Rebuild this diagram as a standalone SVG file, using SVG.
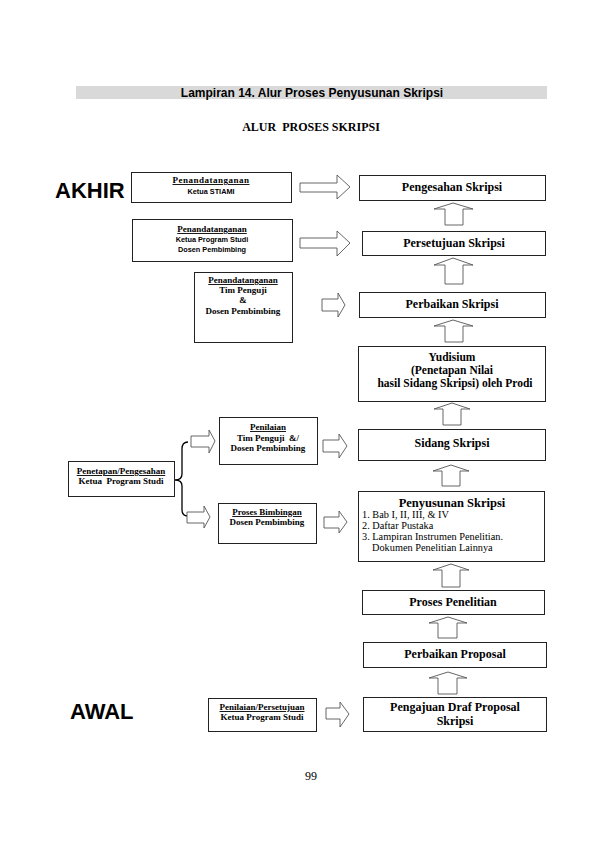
<svg xmlns="http://www.w3.org/2000/svg" width="595" height="842" viewBox="0 0 595 842">
<style>
.bx{fill:#fff;stroke:#222;stroke-width:1}
.ar{fill:#fff;stroke:#555;stroke-width:0.9;stroke-linejoin:miter}
.tb{font-family:"Liberation Serif","Times New Roman",serif;font-weight:bold;fill:#000;text-anchor:middle}
.tr{font-family:"Liberation Serif","Times New Roman",serif;fill:#000}
.ts{font-family:"Liberation Sans",Arial,sans-serif;font-weight:bold;fill:#000;text-anchor:middle}
.u{text-decoration:underline}
.m12{font-size:12px}
.s9{font-size:9px}
.ss{font-size:7.3px}
.big{font-family:"Liberation Sans",Arial,sans-serif;font-weight:bold;font-size:22px;fill:#000}
</style>
<rect width="595" height="842" fill="#fff"/>
<g id="header">
<rect x="76" y="86" width="471" height="13" fill="#d9d9d9"/>
<text x="312" y="96.5" class="ts" style="font-size:12px">Lampiran 14. Alur Proses Penyusunan Skripsi</text>
<text x="311" y="131" class="tb m12" xml:space="preserve">ALUR  PROSES SKRIPSI</text>
</g>
<text x="55" y="198" class="big">AKHIR</text>
<text x="70" y="719" class="big">AWAL</text>

<g id="n-pengesahan"><rect class="bx" x="359.5" y="175.5" width="186" height="25"/><text x="452" y="191" class="tb m12">Pengesahan Skripsi</text></g>
<g id="n-persetujuan"><rect class="bx" x="362.5" y="231.5" width="183" height="24"/><text x="454" y="247" class="tb m12">Persetujuan Skripsi</text></g>
<g id="n-perbaikan-skripsi"><rect class="bx" x="359.5" y="292.5" width="186" height="25"/><text x="452" y="308" class="tb m12">Perbaikan Skripsi</text></g>
<g id="n-yudisium"><rect class="bx" x="358.5" y="346.5" width="187" height="55"/>
<text x="452" y="361" class="tb" style="font-size:11.5px">Yudisium</text>
<text x="452" y="374" class="tb" style="font-size:11.5px">(Penetapan Nilai</text>
<text x="455" y="387" class="tb" style="font-size:11.5px">hasil Sidang Skripsi) oleh Prodi</text></g>
<g id="n-sidang"><rect class="bx" x="358.5" y="429.5" width="187" height="31"/><text x="452" y="447" class="tb m12">Sidang Skripsi</text></g>
<g id="n-penyusunan"><rect class="bx" x="358.5" y="491.5" width="186" height="70"/>
<text x="452" y="507" class="tb" style="font-size:12.5px">Penyusunan Skripsi</text>
<text x="362" y="518" class="tr" style="font-size:10.3px">1. Bab I, II, III, &amp; IV</text>
<text x="362" y="529" class="tr" style="font-size:10.3px">2. Daftar Pustaka</text>
<text x="362" y="540" class="tr" style="font-size:10.3px">3. Lampiran Instrumen Penelitian.</text>
<text x="372" y="551" class="tr" style="font-size:10.3px">Dokumen Penelitian Lainnya</text></g>
<g id="n-proses-penelitian"><rect class="bx" x="362.5" y="590.5" width="182" height="24"/><text x="453" y="606" class="tb m12">Proses Penelitian</text></g>
<g id="n-perbaikan-proposal"><rect class="bx" x="363.5" y="642.5" width="183" height="25"/><text x="455" y="658" class="tb m12">Perbaikan Proposal</text></g>
<g id="n-pengajuan"><rect class="bx" x="363.5" y="697.5" width="183" height="34"/>
<text x="455" y="711" class="tb m12">Pengajuan Draf Proposal</text>
<text x="455" y="725" class="tb m12">Skripsi</text></g>

<g id="n-ttd-stiami"><rect class="bx" x="131.5" y="172.5" width="160" height="30"/>
<text x="211" y="183" class="tb s9 u" style="letter-spacing:0.5px">Penandatanganan</text>
<text x="211" y="194" class="ts ss">Ketua STIAMI</text></g>
<g id="n-ttd-prodi"><rect class="bx" x="132.5" y="219.5" width="160" height="42"/>
<text x="212" y="232" class="tb s9 u">Penandatanganan</text>
<text x="212" y="242" class="ts ss">Ketua Program Studi</text>
<text x="212" y="252" class="ts ss">Dosen Pembimbing</text></g>
<g id="n-ttd-penguji"><rect class="bx" x="194.5" y="272.5" width="98" height="70"/>
<text x="243" y="283" class="tb s9 u">Penandatanganan</text>
<text x="243" y="293" class="tb s9">Tim Penguji</text>
<text x="243" y="303" class="tb s9">&amp;</text>
<text x="243" y="314" class="tb s9">Dosen Pembimbing</text></g>
<g id="n-penilaian"><rect class="bx" x="219.5" y="417.5" width="98" height="47"/>
<text x="268" y="430" class="tb s9 u">Penilaian</text>
<text x="268" y="441" class="tb s9" xml:space="preserve">Tim Penguji  &amp;/</text>
<text x="268" y="451" class="tb s9">Dosen Pembimbing</text></g>
<g id="n-bimbingan"><rect class="bx" x="218.5" y="503.5" width="98" height="40"/>
<text x="267" y="515" class="tb s9 u">Proses Bimbingan</text>
<text x="267" y="525" class="tb s9">Dosen Pembimbing</text></g>
<g id="n-penetapan"><rect class="bx" x="68.5" y="461.5" width="106" height="35"/>
<text x="121" y="474" class="tb s9 u">Penetapan/Pengesahan</text>
<text x="121" y="484" class="tb s9" xml:space="preserve">Ketua  Program Studi</text></g>
<g id="n-penilaian-persetujuan"><rect class="bx" x="208.5" y="698.5" width="108" height="33"/>
<text x="262" y="710" class="tb s9 u">Penilaian/Persetujuan</text>
<text x="262" y="720" class="tb s9">Ketua Program Studi</text></g>

<g id="connectors">
<path d="M188,442 Q182,442 182,449 L182,474 Q182,480 175,480 Q182,480 182,486 L182,510 Q182,516 188,516" fill="none" stroke="#000" stroke-width="1.3"/>
<path class="ar" d="M300,183 L337,183 L337,175 L350,187 L337,199 L337,192 L300,192 Z"/>
<path class="ar" d="M300,238 L337,238 L337,231 L350,243 L337,256 L337,248 L300,248 Z"/>
<path class="ar" d="M322,299 L338,299 L338,293 L345,305 L338,317 L338,311 L322,311 Z"/>
<path class="ar" d="M323,440 L339,440 L339,434 L347,446 L339,458 L339,452 L323,452 Z"/>
<path class="ar" d="M324,517 L339,517 L339,511 L347,522 L339,533 L339,528 L324,528 Z"/>
<path class="ar" d="M326,708 L340,708 L340,702 L349,714 L340,727 L340,719 L326,719 Z"/>
<path class="ar" d="M191,436 L209,436 L209,430 L215,441 L209,453 L209,447 L191,447 Z"/>
<path class="ar" d="M187,512 L204,512 L204,506 L210,517 L204,528 L204,523 L187,523 Z"/>
<path class="ar" d="M445,225 L445,209 L434,209 L453,203 L473,209 L463,209 L463,225 Z"/>
<path class="ar" d="M445,284 L445,265 L434,265 L453,258 L473,265 L463,265 L463,284 Z"/>
<path class="ar" d="M445,342 L445,326 L434,326 L453,320 L473,326 L463,326 L463,342 Z"/>
<path class="ar" d="M443,425 L443,409 L434,409 L452,403 L470,409 L461,409 L461,425 Z"/>
<path class="ar" d="M442,486 L442,471 L433,471 L451,465 L469,471 L460,471 L460,486 Z"/>
<path class="ar" d="M442,587 L442,570 L433,570 L451,564 L469,570 L460,570 L460,587 Z"/>
<path class="ar" d="M438,638 L438,623 L429,623 L448,617 L467,623 L457,623 L457,638 Z"/>
<path class="ar" d="M438,694 L438,678 L429,678 L448,672 L467,678 L457,678 L457,694 Z"/>
</g>
<text x="311" y="780" class="tr m12" style="text-anchor:middle">99</text>
</svg>
